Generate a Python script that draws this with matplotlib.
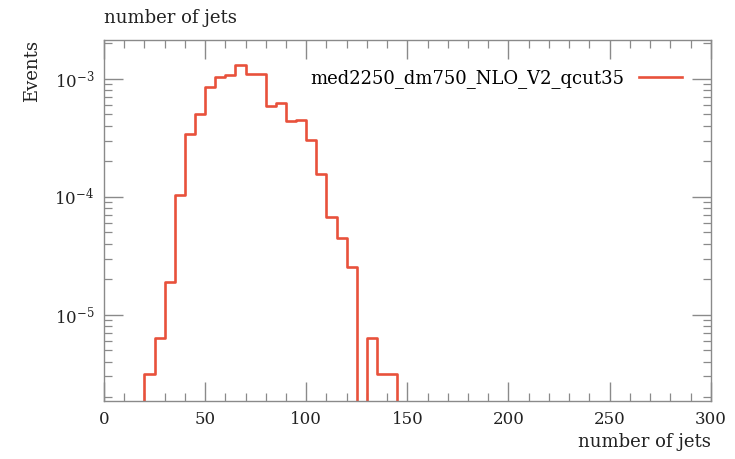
import numpy as np
import matplotlib
matplotlib.use("Agg")
import matplotlib.pyplot as plt
from matplotlib.ticker import LogLocator, MultipleLocator, NullFormatter

# bin edges (low edges) and contents, bin width 5
bin_low = [20, 25, 30, 35, 40, 45, 50, 55, 60, 65, 70, 75, 80, 85, 90, 95,
           100, 105, 110, 115, 120, 125, 130, 135, 140]
events = [3.14e-6, 6.3e-6, 1.89e-5, 1.04e-4, 3.42e-4, 5.04e-4, 8.5e-4, 1.03e-3,
          1.08e-3, 1.31e-3, 1.1e-3, 1.1e-3, 5.9e-4, 6.2e-4, 4.4e-4, 4.5e-4,
          3.04e-4, 1.55e-4, 6.7e-5, 4.44e-5, 2.53e-5, 0.0, 6.3e-6, 3.14e-6, 3.14e-6]
bin_width = 5
label = "med2250_dm750_NLO_V2_qcut35"

plt.rcParams['font.family'] = ['DejaVu Serif']
plt.rcParams['mathtext.fontset'] = 'dejavuserif'

fig = plt.figure(figsize=(7.35, 4.59), dpi=100)
ax = fig.add_axes([0.1415, 0.1264, 0.8255, 0.7866])

edges = np.array(bin_low + [bin_low[-1] + bin_width], dtype=float)
vals = np.array(events, dtype=float)
# pad with empty bins on both sides so the outline rises from / falls to the floor
x_pad = np.concatenate([[edges[0] - bin_width], edges, [edges[-1] + bin_width]])
v_pad = np.concatenate([[0.0], vals, [0.0, 0.0]])
v_plot = np.where(v_pad > 0, v_pad, 1e-12)

ax.step(x_pad, v_plot, where='post', color='#e8513b', lw=1.9, label=label)

ax.set_yscale('log')
ax.set_xlim(0, 300)
ax.set_ylim(1.86e-6, 2.14e-3)

grey = '#8a8a8a'
for s in ax.spines.values():
    s.set_color(grey)
    s.set_linewidth(1.0)

ax.xaxis.set_major_locator(MultipleLocator(50))
ax.xaxis.set_minor_locator(MultipleLocator(10))
ax.yaxis.set_major_locator(LogLocator(base=10, numticks=10))
ax.yaxis.set_minor_locator(LogLocator(base=10, subs=np.arange(2, 10), numticks=20))
ax.yaxis.set_minor_formatter(NullFormatter())
ax.tick_params(which='both', direction='in', top=True, right=True, color=grey,
               labelsize=12, labelcolor='#222222')
ax.tick_params(which='major', length=14, width=1.0, pad=7)
ax.tick_params(which='minor', length=6, width=0.9)

ax.set_xlabel('number of jets', fontsize=13, loc='right', color='#222222')
ax.set_ylabel('Events', fontsize=13, loc='top', color='#222222', labelpad=10)
ax.set_title('number of jets', fontsize=13, loc='left', color='#222222', pad=12)

leg = ax.legend(loc='upper right', frameon=False, markerfirst=False, fontsize=13,
                handlelength=2.4, borderaxespad=1.2)

fig.savefig('out.png', dpi=100)
